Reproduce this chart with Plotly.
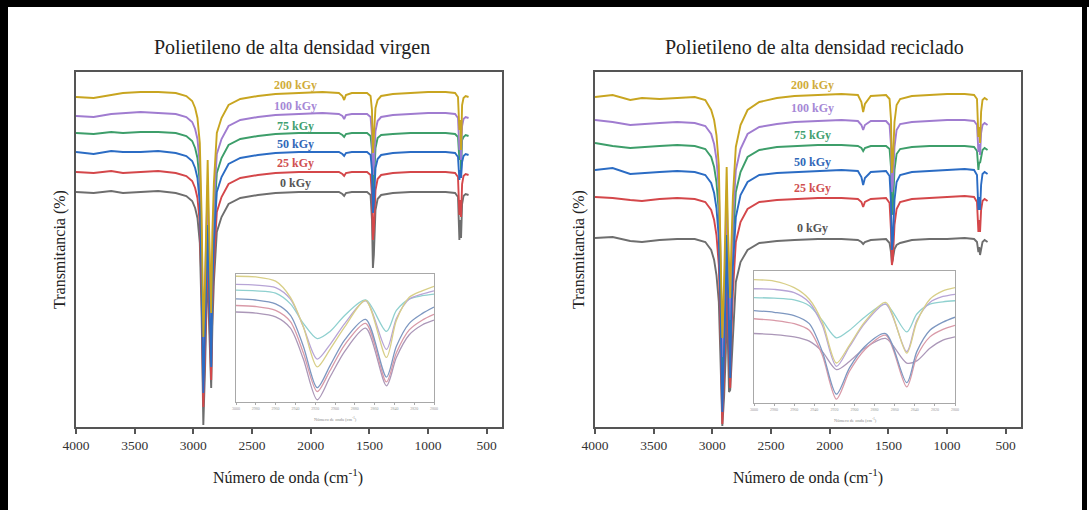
import plotly.graph_objects as go

# ---------------- data ----------------
wavenumber = [4000, 3850, 3700, 3600, 3450, 3300, 3150, 3060, 3010, 2985, 2965, 2945, 2930, 2915,
              2900, 2885, 2878, 2868, 2858, 2848, 2838, 2825, 2800, 2760, 2700, 2600, 2450, 2300,
              2100, 1900, 1760, 1730, 1715, 1700, 1650, 1520, 1490, 1478, 1470, 1462, 1448, 1430,
              1400, 1300, 1150, 1000, 850, 770, 745, 733, 726, 719, 710, 698, 680, 655]

dose_labels = ["0 kGy", "25 kGy", "50 kGy", "75 kGy", "100 kGy", "200 kGy"]

# Virgin HDPE (stacked transmittance, a.u.)
virgin_0 = [47.0, 46.8, 47.2, 46.8, 47.0, 47.2, 46.8, 46.2, 45.2, 43.8, 41.8, 36.8, 23.0, 0.4, 12.0, 25.0, 33.8, 22.0, 12.0, 7.8, 20.0, 29.0, 39.0, 42.0, 44.6, 45.8, 46.4, 46.8, 47.0, 47.0, 47.0, 46.6, 46.2, 46.8, 47.0, 47.0, 46.4, 41.4, 31.8, 34.4, 43.4, 45.6, 46.4, 46.8, 47.0, 47.0, 47.0, 46.8, 46.0, 37.4, 41.4, 37.8, 44.6, 46.2, 46.6, 46.4]
virgin_25 = [51.0, 50.8, 51.2, 50.8, 51.0, 51.2, 50.8, 50.2, 49.2, 47.8, 45.8, 40.8, 27.0, 4.0, 16.0, 29.0, 36.4, 26.0, 16.0, 9.4, 24.0, 33.0, 43.0, 46.0, 48.6, 49.8, 50.4, 50.8, 51.0, 51.0, 51.0, 50.6, 50.2, 50.8, 51.0, 51.0, 50.4, 46.4, 37.4, 39.4, 47.4, 49.6, 50.4, 50.8, 51.0, 51.0, 51.0, 50.8, 50.0, 42.4, 45.4, 42.0, 48.6, 50.2, 50.6, 50.4]
virgin_50 = [55.0, 54.6, 55.2, 55.0, 55.0, 55.2, 54.8, 54.2, 53.2, 51.8, 49.8, 44.8, 31.0, 6.8, 20.0, 33.0, 40.4, 30.0, 20.0, 12.0, 28.0, 37.0, 47.0, 50.0, 52.6, 53.8, 54.4, 54.8, 55.0, 55.0, 55.0, 54.6, 54.2, 54.8, 55.0, 55.0, 54.4, 51.4, 42.8, 44.8, 51.8, 53.6, 54.4, 54.8, 55.0, 55.0, 55.0, 54.8, 54.0, 49.4, 51.4, 49.8, 53.0, 54.2, 54.6, 54.4]
virgin_75 = [58.8, 58.6, 59.0, 58.8, 59.0, 59.0, 58.8, 58.2, 57.2, 55.8, 53.8, 48.8, 36.0, 11.4, 24.4, 37.4, 44.4, 34.4, 24.4, 15.4, 31.4, 40.8, 50.8, 53.8, 56.4, 57.6, 58.2, 58.6, 58.8, 58.8, 58.8, 58.4, 58.0, 58.6, 58.8, 58.8, 58.2, 55.4, 46.4, 48.4, 55.8, 57.8, 58.4, 58.6, 58.8, 58.8, 58.8, 58.6, 58.0, 53.4, 55.4, 51.4, 57.4, 58.0, 58.4, 58.2]
virgin_100 = [62.2, 62.0, 62.6, 62.8, 63.0, 62.8, 62.6, 62.0, 61.0, 59.6, 57.6, 52.6, 38.6, 15.4, 27.4, 41.0, 48.4, 37.4, 27.4, 19.4, 33.0, 44.6, 54.6, 57.6, 60.2, 61.4, 62.0, 62.4, 62.6, 62.8, 62.6, 62.2, 61.6, 62.4, 62.6, 62.6, 62.0, 58.4, 50.4, 52.4, 59.2, 61.2, 62.0, 62.4, 62.6, 62.8, 62.8, 62.6, 61.8, 55.4, 57.4, 53.4, 60.2, 61.6, 62.0, 61.8]
virgin_200 = [66.0, 65.8, 66.4, 66.8, 67.0, 67.0, 66.8, 66.2, 65.2, 63.8, 61.8, 56.8, 42.8, 18.0, 29.4, 45.4, 53.4, 41.4, 30.8, 22.8, 38.8, 48.8, 58.8, 61.8, 64.4, 65.6, 66.2, 66.6, 66.8, 67.0, 66.8, 66.2, 65.4, 66.4, 66.8, 66.8, 66.2, 63.4, 54.8, 57.4, 63.8, 65.4, 66.2, 66.6, 66.8, 67.0, 67.0, 66.8, 66.0, 59.4, 61.4, 55.4, 64.4, 65.8, 66.2, 66.0]

# Recycled HDPE
recycled_0 = [37.8, 38.0, 37.2, 37.0, 37.4, 37.6, 37.6, 37.0, 35.4, 33.4, 30.4, 25.0, 13.0, 0.2, 6.0, 15.0, 27.4, 15.0, 7.0, 7.4, 12.0, 20.0, 29.0, 33.0, 35.4, 36.8, 37.2, 37.4, 37.6, 37.6, 37.4, 37.0, 36.6, 37.0, 37.4, 37.6, 36.8, 35.0, 32.8, 33.6, 35.6, 36.4, 36.8, 37.4, 37.6, 37.6, 37.8, 37.6, 37.0, 35.0, 36.0, 34.4, 36.0, 37.0, 37.4, 37.0]
recycled_25 = [46.0, 45.8, 45.4, 45.2, 45.6, 45.8, 45.6, 45.0, 43.4, 41.4, 38.4, 32.4, 19.0, 0.6, 11.0, 23.0, 33.4, 22.0, 12.0, 7.8, 18.0, 27.0, 37.0, 41.0, 43.6, 45.0, 45.4, 45.6, 45.8, 45.8, 45.6, 45.0, 44.0, 45.0, 45.6, 45.8, 44.8, 39.4, 32.4, 33.6, 40.4, 43.6, 45.0, 45.6, 45.8, 46.0, 46.2, 46.0, 45.0, 39.0, 41.4, 39.0, 43.4, 45.2, 45.6, 45.2]
recycled_50 = [51.4, 51.8, 50.6, 50.8, 51.0, 51.2, 51.0, 50.4, 48.8, 46.8, 43.8, 37.8, 24.0, 3.0, 15.0, 28.0, 38.4, 27.0, 16.0, 9.8, 23.0, 32.0, 42.0, 46.4, 49.0, 50.4, 50.8, 51.0, 51.2, 51.4, 51.2, 50.0, 48.4, 49.8, 51.0, 51.2, 50.2, 45.0, 35.4, 37.4, 45.4, 49.0, 50.4, 51.0, 51.2, 51.4, 51.6, 51.4, 50.4, 43.4, 46.0, 43.4, 48.4, 50.6, 51.0, 50.6]
recycled_75 = [56.8, 56.2, 55.8, 56.0, 56.2, 56.4, 56.2, 55.6, 54.0, 52.0, 49.0, 43.0, 30.0, 10.4, 21.0, 34.0, 42.4, 32.0, 22.0, 17.4, 28.0, 37.0, 47.0, 51.0, 54.0, 55.4, 56.0, 56.2, 56.4, 56.4, 56.2, 55.8, 55.2, 55.8, 56.2, 56.2, 55.6, 52.0, 42.4, 44.0, 51.4, 54.6, 55.6, 56.0, 56.2, 56.2, 56.2, 56.0, 55.2, 51.4, 53.0, 52.8, 54.2, 55.4, 55.8, 55.4]
recycled_100 = [61.4, 61.0, 60.4, 60.6, 60.8, 61.0, 60.8, 60.2, 58.6, 56.6, 53.6, 47.6, 34.0, 14.0, 25.0, 38.0, 47.4, 36.0, 26.0, 21.4, 32.0, 41.4, 51.4, 55.6, 58.6, 60.0, 60.6, 61.0, 61.2, 61.4, 61.2, 60.4, 59.4, 60.4, 61.2, 61.2, 60.4, 56.4, 47.0, 48.6, 56.0, 59.4, 60.6, 61.0, 61.2, 61.4, 61.4, 61.2, 60.4, 55.0, 56.6, 54.4, 58.8, 60.4, 60.8, 60.4]
recycled_200 = [66.0, 66.4, 65.4, 65.8, 65.6, 65.8, 66.0, 65.4, 63.4, 61.4, 58.4, 52.4, 38.0, 17.8, 29.0, 43.0, 52.0, 40.0, 30.0, 25.8, 36.0, 46.0, 56.0, 60.4, 63.4, 65.0, 65.8, 66.2, 66.4, 66.6, 66.4, 65.0, 63.0, 64.6, 66.2, 66.4, 65.6, 61.6, 50.8, 53.0, 61.0, 64.4, 65.6, 66.2, 66.4, 66.6, 66.6, 66.4, 65.6, 58.0, 60.0, 56.8, 63.0, 65.4, 65.8, 65.4]

# Inset (C-H stretching region)
inset_wavenumber = [3000, 2980, 2960, 2945, 2932, 2918, 2905, 2890, 2869, 2848, 2838, 2825, 2812, 2800]
inset_ticks = [3000, 2980, 2960, 2940, 2920, 2900, 2880, 2860, 2840, 2820, 2800]

virgin_inset_0 = [70.7, 69.9, 66.8, 57.8, 33.2, 0.8, 18.9, 39.6, 57.8, 11.9, 34.5, 52.6, 60.4, 64.2]
virgin_inset_25 = [75.9, 75.1, 72.0, 63.0, 38.3, 7.3, 24.1, 44.8, 61.7, 15.0, 38.3, 56.5, 64.2, 68.9]
virgin_inset_50 = [81.1, 80.3, 77.2, 68.1, 43.5, 10.4, 28.0, 48.7, 64.8, 18.9, 43.5, 61.7, 69.4, 74.6]
virgin_inset_75 = [88.1, 87.6, 85.8, 77.2, 61.7, 49.5, 55.2, 68.1, 80.3, 55.2, 72.0, 81.0, 83.7, 85.0]
virgin_inset_100 = [92.7, 92.2, 90.2, 81.0, 59.0, 33.2, 44.8, 61.7, 79.5, 40.9, 65.5, 81.0, 85.0, 87.6]
virgin_inset_200 = [99.2, 98.7, 95.3, 82.4, 59.0, 27.0, 41.0, 59.0, 80.0, 34.5, 64.0, 82.4, 87.6, 91.2]

recycled_inset_0 = [52.7, 51.9, 50.1, 46.8, 38.7, 24.8, 31.1, 41.3, 48.9, 29.9, 31.6, 41.3, 47.6, 50.1]
recycled_inset_25 = [64.1, 62.8, 60.3, 55.2, 35.9, 2.0, 23.5, 40.0, 51.4, 11.4, 34.9, 50.1, 55.9, 59.0]
recycled_inset_50 = [70.4, 69.1, 66.6, 60.3, 38.7, 5.8, 26.1, 42.5, 52.7, 14.7, 38.7, 55.2, 61.5, 65.3]
recycled_inset_75 = [80.5, 80.0, 78.7, 74.2, 62.8, 49.4, 55.2, 65.3, 75.4, 53.9, 67.8, 75.4, 77.2, 78.0]
recycled_inset_100 = [87.3, 86.8, 84.3, 76.7, 59.0, 27.3, 42.5, 60.3, 75.4, 38.7, 62.8, 76.7, 81.3, 83.0]
recycled_inset_200 = [94.4, 93.2, 88.1, 79.2, 61.5, 29.9, 43.8, 61.5, 76.7, 37.5, 61.5, 79.2, 85.6, 88.1]

x_ticks = [4000, 3500, 3000, 2500, 2000, 1500, 1000, 500]

# label positions (data coords)
virgin_label_y = [48.8, 52.8, 56.6, 60.2, 64.2, 68.4]
recycled_label_y = [39.8, 47.8, 53.0, 58.4, 63.8, 68.4]

# ---------------- styling ----------------
main_colors = {"0 kGy": "#6e6e6e", "25 kGy": "#d4474a", "50 kGy": "#2b6cc4",
               "75 kGy": "#3d9e6a", "100 kGy": "#a07cd0", "200 kGy": "#c8a520"}
label_colors = {"0 kGy": "#555555", "25 kGy": "#d05050", "50 kGy": "#2f67b8",
                "75 kGy": "#3f9f70", "100 kGy": "#a688d6", "200 kGy": "#d0ac3a"}
inset_colors = {"0 kGy": "#ab97b8", "25 kGy": "#d99aa8", "50 kGy": "#7d97c0",
                "75 kGy": "#8fd0cf", "100 kGy": "#b7a4d6", "200 kGy": "#d8cf88"}

virgin = dict(zip(dose_labels, [virgin_0, virgin_25, virgin_50, virgin_75, virgin_100, virgin_200]))
recycled = dict(zip(dose_labels, [recycled_0, recycled_25, recycled_50, recycled_75, recycled_100, recycled_200]))
virgin_in = dict(zip(dose_labels, [virgin_inset_0, virgin_inset_25, virgin_inset_50, virgin_inset_75, virgin_inset_100, virgin_inset_200]))
recycled_in = dict(zip(dose_labels, [recycled_inset_0, recycled_inset_25, recycled_inset_50, recycled_inset_75, recycled_inset_100, recycled_inset_200]))

draw_order = ["0 kGy", "25 kGy", "75 kGy", "100 kGy", "50 kGy", "200 kGy"]

fig = go.Figure()
for data, xa, ya in [(virgin, "x", "y"), (recycled, "x2", "y2")]:
    for dose in draw_order:
        fig.add_trace(go.Scatter(x=wavenumber, y=data[dose], mode="lines", xaxis=xa, yaxis=ya,
                                 line=dict(color=main_colors[dose], width=1.9), showlegend=False,
                                 name=dose, hoverinfo="skip"))
for data, xa, ya in [(virgin_in, "x3", "y3"), (recycled_in, "x4", "y4")]:
    for dose in dose_labels:
        fig.add_trace(go.Scatter(x=inset_wavenumber, y=data[dose], mode="lines", xaxis=xa, yaxis=ya,
                                 line=dict(color=inset_colors[dose], width=1.3, shape="spline", smoothing=0.8),
                                 showlegend=False, name=dose, hoverinfo="skip"))

W, H = 1089, 510
def px(x): return x / W
def py(y): return 1 - y / H

serif = "Liberation Serif"
frame = "#555555"

main_x = dict(range=[4000, 370], tickvals=x_ticks, ticktext=[str(t) for t in x_ticks],
              showline=True, linecolor=frame, linewidth=2, mirror=True,
              ticks="outside", ticklen=5, tickwidth=1.5, tickcolor=frame,
              tickfont=dict(family=serif, size=13.5, color="#333333"),
              showgrid=False, zeroline=False, automargin=False)
main_y = dict(range=[0, 71], showticklabels=False, ticks="", showline=True, linecolor=frame,
              linewidth=2, mirror=True, showgrid=False, zeroline=False, automargin=False)
inset_x = dict(range=[3000, 2800], tickvals=inset_ticks, ticktext=[str(t) for t in inset_ticks],
               showline=True, linecolor="#a8a8a8", linewidth=1, mirror=True,
               ticks="outside", ticklen=2, tickwidth=0.8, tickcolor="#a8a8a8",
               tickfont=dict(family=serif, size=4, color="#9a9a9a"),
               showgrid=False, zeroline=False, automargin=False)
inset_y = dict(range=[-1, 101], showticklabels=False, ticks="", showline=True, linecolor="#a8a8a8",
               linewidth=1, mirror=True, showgrid=False, zeroline=False, automargin=False)

fig.update_layout(
    width=W, height=H, autosize=False, margin=dict(l=0, r=0, t=0, b=0, pad=0),
    paper_bgcolor="white", plot_bgcolor="rgba(0,0,0,0)",
    xaxis=dict(domain=[px(76), px(502)], anchor="y", **main_x),
    yaxis=dict(domain=[py(427), py(72)], anchor="x", **main_y),
    xaxis2=dict(domain=[px(595), px(1021)], anchor="y2", **main_x),
    yaxis2=dict(domain=[py(427), py(72)], anchor="x2", **main_y),
    xaxis3=dict(domain=[px(236), px(434)], anchor="y3", **inset_x),
    yaxis3=dict(domain=[py(402), py(274)], anchor="x3", **inset_y),
    xaxis4=dict(domain=[px(754), px(955)], anchor="y4", **inset_x),
    yaxis4=dict(domain=[py(403), py(271)], anchor="x4", **inset_y),
)

def paper_text(text, x, y, size, color="#222", angle=0):
    return dict(text=text, x=px(x), y=py(y), xref="paper", yref="paper", xanchor="center",
                yanchor="middle", textangle=angle, showarrow=False,
                font=dict(family=serif, size=size, color=color))

ann = []
ann.append(paper_text("Polietileno de alta densidad virgen", 292, 47, 20))
ann.append(paper_text("Polietileno de alta densidad reciclado", 814, 47, 20))
for cx in [288, 808]:
    ann.append(paper_text("Número de onda (cm<sup>-1</sup>)", cx, 476, 16))
for cx in [60, 579]:
    ann.append(paper_text("Transmitancia (%)", cx, 250, 16, angle=-90))
for cx, cy in [(335, 419), (855, 420)]:
    ann.append(paper_text("Número de onda (cm<sup>-1</sup>)", cx, cy, 4.5, color="#888"))
for dose, yv in zip(dose_labels, virgin_label_y):
    ann.append(dict(text="<b>%s</b>" % dose, x=2130, y=yv, xref="x", yref="y", showarrow=False,
                    xanchor="center", yanchor="middle",
                    font=dict(family=serif, size=12, color=label_colors[dose])))
for dose, yv in zip(dose_labels, recycled_label_y):
    ann.append(dict(text="<b>%s</b>" % dose, x=2145, y=yv, xref="x2", yref="y2", showarrow=False,
                    xanchor="center", yanchor="middle",
                    font=dict(family=serif, size=12, color=label_colors[dose])))
fig.update_layout(annotations=ann)

# outer black picture border
shapes = [
    dict(type="rect", xref="paper", yref="paper", x0=0, x1=px(8), y0=0, y1=1, fillcolor="black", line_width=0),
    dict(type="rect", xref="paper", yref="paper", x0=0, x1=1, y0=py(7), y1=1, fillcolor="black", line_width=0),
    dict(type="rect", xref="paper", yref="paper", x0=px(1082), x1=px(1087), y0=0, y1=1, fillcolor="black", line_width=0),
]
fig.update_layout(shapes=shapes)

fig.write_html("out.html", config={"displayModeBar": False})

# remove default page margins so the figure fills the window exactly
with open("out.html", "r", encoding="utf-8") as f:
    html = f.read()
html = html.replace("<head>", "<head><style>html,body{margin:0;padding:0;overflow:hidden;}</style>", 1)
with open("out.html", "w", encoding="utf-8") as f:
    f.write(html)
